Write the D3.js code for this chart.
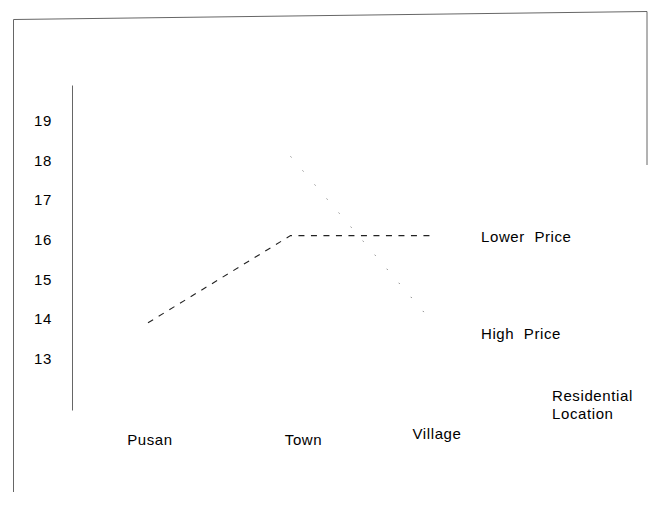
<!DOCTYPE html>
<html>
<head>
<meta charset="utf-8">
<script src="https://cdn.jsdelivr.net/npm/d3@7"></script>
<style>
  html, body { margin: 0; padding: 0; background: #fff; }
  svg { display: block; }
  text { font-family: "Liberation Sans", Arial, Helvetica, sans-serif; font-size: 15px; fill: #000; letter-spacing: 0.6px; }
</style>
</head>
<body>
<svg id="chart" width="649" height="520"></svg>
<script>
// ---- data ----
const categories = ["Pusan", "Town", "Village"];
const lowerPrice = [13.9, 16.1, 16.1];
const highPrice = [null, 18.1, 13.9];
const yTicks = [13, 14, 15, 16, 17, 18, 19];
const seriesNames = ["Lower  Price", "High  Price"];
const xTitle = ["Residential", "Location"];

// ---- layout ----
const svg = d3.select("#chart");
const x = d3.scalePoint().domain(categories).range([148, 433]);
const y = d3.scaleLinear().domain([11.7, 19.9]).range([410, 85]);

// frame (scanned page border)
svg.append("path")
  .attr("d", "M13.5,492 L13.5,19.5 L647,11.5 L647,165")
  .attr("fill", "none").attr("stroke", "#666").attr("stroke-width", 1);

// y axis
const yAxis = d3.axisLeft(y).tickValues(yTicks).tickSize(0).tickPadding(20)
  .tickFormat(d3.format("d"));
const gy = svg.append("g").attr("transform", "translate(72,0)").call(yAxis);
gy.select(".domain").attr("stroke", "#666").attr("stroke-width", 1);
gy.selectAll("text").attr("font-size", 15).attr("fill", "#000")
  .attr("font-family", "Liberation Sans, Arial, sans-serif");

// category labels
const catDx = [2, 13, 4];
const catDy = [439, 439, 433];
svg.append("g").selectAll("text").data(categories).join("text")
  .attr("x", (d, i) => x(d) + catDx[i])
  .attr("y", (d, i) => catDy[i])
  .attr("text-anchor", "middle")
  .attr("dominant-baseline", "central")
  .text(d => d);

// lines
const line = d3.line()
  .defined(d => d.v != null)
  .x(d => x(d.c))
  .y(d => y(d.v));

svg.append("path")
  .datum(categories.map((c, i) => ({ c, v: lowerPrice[i] })))
  .attr("d", line)
  .attr("fill", "none").attr("stroke", "#222").attr("stroke-width", 1.1)
  .attr("stroke-dasharray", "6,6.5");

svg.append("path")
  .datum(categories.map((c, i) => ({ c, v: highPrice[i] })))
  .attr("d", line)
  .attr("fill", "none").attr("stroke", "#8a8a8a").attr("stroke-width", 1)
  .attr("stroke-dasharray", "1.5,17");

// series labels
const lastLower = lowerPrice[lowerPrice.length - 1];
const lastHigh = highPrice[highPrice.length - 1];
svg.append("text").attr("x", 481).attr("y", y(lastLower) + 1)
  .attr("dominant-baseline", "central")
  .style("white-space", "pre").text(seriesNames[0]);
svg.append("text").attr("x", 481).attr("y", y(lastHigh) + 11)
  .attr("dominant-baseline", "central")
  .style("white-space", "pre").text(seriesNames[1]);

// x axis title
svg.append("g").selectAll("text").data(xTitle).join("text")
  .attr("x", 552)
  .attr("y", (d, i) => 395 + i * 18)
  .attr("dominant-baseline", "central")
  .text(d => d);
</script>
</body>
</html>
